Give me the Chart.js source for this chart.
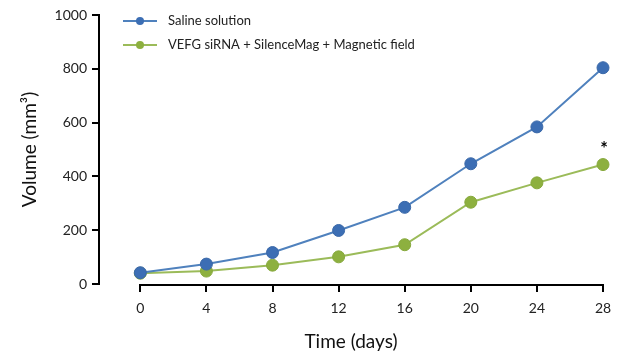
<!DOCTYPE html>
<html>
<head>
<meta charset="utf-8">
<script src="https://cdn.jsdelivr.net/npm/chart.js@4"></script>
<style>
  html, body { margin: 0; padding: 0; background: #fff; }
  #wrap { width: 626px; height: 359px; }
</style>
</head>
<body>
<div id="wrap"><canvas id="chart"></canvas></div>
<script>
const days = [0, 4, 8, 12, 16, 20, 24, 28];
const salineValues = [42, 74, 117, 199, 285, 447, 584, 804];
const silenceMagValues = [40, 48, 70, 101, 146, 304, 376, 444];
const volumeTicks = [0, 200, 400, 600, 800, 1000];
const seriesNames = ['Saline solution', 'VEFG siRNA + SilenceMag + Magnetic field'];
const significantDay = 28;

document.addEventListener('DOMContentLoaded', function() {
    const font = 'Lato, "Open Sans", sans-serif';

    function toPoints(values) {
        return values.map((v, i) => ({ x: days[i], y: v }));
    }

    // x axis line only between first and last day, plus legend and the star
    const extras = {
        id: 'extras',
        afterDraw(chart) {
            const ctx = chart.ctx;
            const x = chart.scales.x;
            const y = chart.scales.y;
            const area = chart.chartArea;
            ctx.save();
            ctx.strokeStyle = '#000';
            ctx.lineWidth = 2;
            ctx.beginPath();
            ctx.moveTo(x.getPixelForValue(days[0]) - 1, area.bottom + 1);
            ctx.lineTo(x.getPixelForValue(days[days.length - 1]) + 1, area.bottom + 1);
            ctx.stroke();

            // legend
            chart.data.datasets.forEach((ds, i) => {
                const ly = 21 + i * 24;
                const lx = 123;
                ctx.strokeStyle = ds.borderColor;
                ctx.lineWidth = 2;
                ctx.beginPath();
                ctx.moveTo(lx, ly);
                ctx.lineTo(lx + 34, ly);
                ctx.stroke();
                ctx.fillStyle = ds.pointBackgroundColor;
                ctx.beginPath();
                ctx.arc(lx + 17, ly, 4, 0, Math.PI * 2);
                ctx.fill();
                ctx.fillStyle = '#222';
                ctx.font = '13px ' + font;
                ctx.textBaseline = 'middle';
                ctx.textAlign = 'left';
                ctx.fillText(ds.label, lx + 45, ly);
            });

            // significance mark
            const idx = days.indexOf(significantDay);
            const sx = x.getPixelForValue(significantDay);
            const sy = y.getPixelForValue(silenceMagValues[idx]);
            ctx.fillStyle = '#000';
            ctx.font = 'bold 18px ' + font;
            ctx.textAlign = 'center';
            ctx.textBaseline = 'middle';
            ctx.fillText('*', sx + 1, sy - 15);
            ctx.restore();
        }
    };

    new Chart(document.getElementById('chart'), {
        type: 'line',
        data: {
            datasets: [{
                label: seriesNames[0],
                data: toPoints(salineValues),
                borderColor: '#4f81bd',
                backgroundColor: '#3c6eb4',
                pointBackgroundColor: '#3c6eb4',
                pointBorderColor: '#3a68a8',
                borderWidth: 2,
                pointRadius: 6,
                pointBorderWidth: 1
            }, {
                label: seriesNames[1],
                data: toPoints(silenceMagValues),
                borderColor: '#9bbb59',
                backgroundColor: '#8db03f',
                pointBackgroundColor: '#8db03f',
                pointBorderColor: '#86a83c',
                borderWidth: 2,
                pointRadius: 6,
                pointBorderWidth: 1
            }]
        },
        options: {
            responsive: true,
            maintainAspectRatio: false,
            animation: false,
            layout: { padding: { top: 15, right: 23, left: 0, bottom: 0 } },
            clip: false,
            scales: {
                x: {
                    type: 'linear',
                    min: -2.5,
                    max: 28,
                    afterBuildTicks: (scale) => { scale.ticks = days.map(v => ({ value: v })); },
                    afterFit: (scale) => { scale.height = 75; },
                    border: { display: false },
                    grid: { drawOnChartArea: false, drawTicks: true, tickLength: 8, color: '#000', lineWidth: 2 },
                    ticks: { color: '#222', font: { family: font, size: 14 }, padding: 8, maxRotation: 0 },
                    title: { display: true, text: 'Time (days)', color: '#111', font: { family: font, size: 19 }, padding: { top: 6, bottom: 6 } }
                },
                y: {
                    min: 0,
                    max: 1000,
                    afterBuildTicks: (scale) => { scale.ticks = volumeTicks.map(v => ({ value: v })); },
                    afterFit: (scale) => { scale.width = 99; },
                    border: { display: true, color: '#000', width: 2 },
                    grid: { drawOnChartArea: false, drawTicks: true, tickLength: 7, color: '#000', lineWidth: 2 },
                    ticks: { color: '#222', font: { family: font, size: 14 }, padding: 5, callback: (v) => String(v) },
                    title: { display: true, text: 'Volume (mm³)', color: '#111', font: { family: font, size: 19 }, padding: { top: 18, bottom: 0 } }
                }
            },
            plugins: {
                legend: { display: false },
                tooltip: { enabled: false }
            }
        },
        plugins: [extras]
    });
});
</script>
</body>
</html>
